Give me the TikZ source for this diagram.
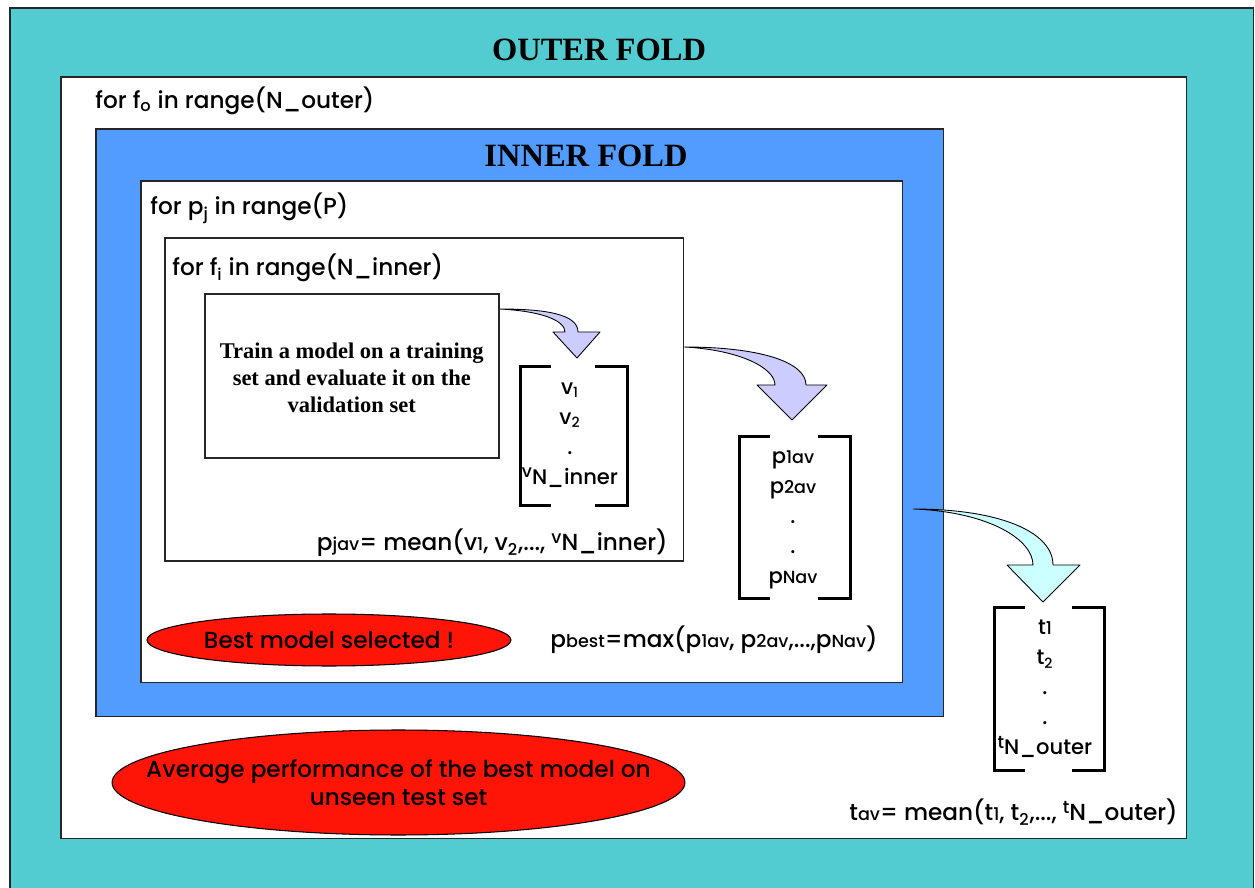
\documentclass[tikz,border=0pt]{standalone}
\usepackage{fontspec}
\setmainfont{Liberation Serif}
\setsansfont{Poppins}[BoldFont={Poppins Medium}]
\usetikzlibrary{shapes.geometric,calc}

\definecolor{tealbg}{RGB}{82,204,208}
\definecolor{foldblue}{RGB}{82,156,255}
\definecolor{lav}{RGB}{204,204,255}
\definecolor{ice}{RGB}{204,255,255}
\definecolor{redfill}{RGB}{255,20,8}

% small glyphs used for the low-set indices
\newcommand\sm[1]{{\fontsize{10}{11}\selectfont #1}}
\newcommand\hi[1]{\raisebox{.55ex}{\sm{#1}}}

\tikzset{
  frame/.style={draw=black!85, line width=0.9pt, inner sep=0pt, anchor=north west},
  title/.style={font=\rmfamily\fontsize{18.5}{21}\selectfont\bfseries},
  sans/.style={font=\sffamily\bfseries\fontsize{13.2}{16}\selectfont},
  loop/.style={sans, inner sep=0pt, anchor=west},
  formula/.style={sans, inner sep=0pt, anchor=east},
  entries/.style={font=\sffamily\bfseries\fontsize{12}{17}\selectfont, align=center, inner sep=0pt},
  holder/.style={inner sep=0pt},
  brk/.style={line width=1.5pt},
  oval/.style={ellipse, draw=black, fill=redfill, line width=0.6pt, inner sep=0pt},
  ovaltext/.style={sans, align=center, inner sep=0pt},
  fat/.style={draw=black, line width=0.5pt, line join=round},
}

\begin{document}
\begin{tikzpicture}[x=0.02cm, y=-0.02cm]
\useasboundingbox (0,0) rectangle (1255,888);
\fill[white] (0,0) rectangle (1255,888);

% nested frames
\node[frame, fill=tealbg, minimum width=24.88cm, minimum height=17.76cm] (cv) at (9,7) {};
\node[frame, fill=white, minimum width=22.52cm, minimum height=15.24cm] (outer) at (60,76) {};
\node[frame, fill=foldblue, minimum width=16.96cm, minimum height=11.76cm] (blue) at (95,128) {};
\node[frame, fill=white, minimum width=15.24cm, minimum height=10.04cm] (pbox) at (140,180) {};
\node[frame, fill=white, minimum width=10.38cm, minimum height=6.46cm] (fbox) at (164,237) {};
\node[frame, fill=white, minimum width=5.88cm, minimum height=3.28cm] (train) at (204,293) {};

% titles and loop headers
\node[title] (t1) at (599,50) {OUTER FOLD};
\node[title] (t2) at (586,156) {INNER FOLD};
\node[loop] (lo) at (95,101) {for f\textsubscript{o} in range(N\_outer)};
\node[loop] (lp) at (150,208) {for p\textsubscript{j} in range(P)};
\node[loop] (li) at (172,268) {for f\textsubscript{i} in range(N\_inner)};

\node[align=center, font=\rmfamily\fontsize{12.8}{15.6}\selectfont\bfseries] (tt) at ($(train.center)+(0,2)$)
  {Train a model on a training\\set and evaluate it on the\\validation set};

% result columns
\node[holder, minimum width=2.12cm, minimum height=2.76cm] (vb) at (574,436) {};
\node[holder, minimum width=2.2cm, minimum height=3.22cm] (pb) at (795,517.5) {};
\node[holder, minimum width=2.18cm, minimum height=3.24cm] (tb) at (1049.5,689) {};

\foreach \b in {vb,pb,tb}{
  \draw[brk] ($(\b.north west)+(30,0)$) -- (\b.north west) -- (\b.south west) -- ++(30,0);
  \draw[brk] ($(\b.north east)+(-32,0)$) -- (\b.north east) -- (\b.south east) -- ++(-32,0);
}

\node[entries] (vs) at (570,435) {v\textsubscript{1}\\v\textsubscript{2}\\.\\\hi{v}N\_inner};
\node[entries] (ps) at (793,520) {p\sm{1av}\\p\sm{2av}\\.\\.\\p\sm{Nav}};
\node[entries] (ts) at (1045,689) {t\sm{1}\\t\textsubscript{2}\\.\\.\\\hi{t}N\_outer};

% formulas
\node[formula] (fj) at (668,543) {p\sm{jav}= mean(v\sm{1}, v\textsubscript{2},..., \hi{v}N\_inner)};
\node[formula] (fb) at (878,640) {p\sm{best}=max(p\sm{1av}, p\sm{2av},...,p\sm{Nav})};
\node[formula] (fa) at (1178,812) {t\sm{av}= mean(t\sm{1}, t\textsubscript{2},..., \hi{t}N\_outer)};

% outcome ovals
\node[oval, minimum width=7.28cm, minimum height=1.04cm] (best) at (329,640) {};
\node[ovaltext] (bestl) at (best.center) {Best model selected !};
\node[oval, minimum width=11.46cm, minimum height=2.1cm] (avg) at (398.5,782.5) {};
\node[ovaltext] (avgl) at (avg.center) {Average performance of the best model on\\unseen test set};

% curved block arrows
\coordinate (s1) at ($(train.north east)+(0,16)$);
\coordinate (s2) at ($(fbox.north east)+(0,110)$);
\coordinate (s3) at ($(blue.north east)+(-31,381)$);

\filldraw[fat, fill=lav] (s1) .. controls (545,309) and (578,314) .. (578,332)
  -- (600,332) -- (577,358) -- (553,332) -- (565,332)
  .. controls (565,320) and (540,311) .. (s1) -- cycle;
\filldraw[fat, fill=lav] (s2) .. controls (760,347) and (806,362) .. (806,385)
  -- (827,385) -- (792,420) -- (757,385) -- (775,385)
  .. controls (775,368) and (740,350) .. (s2) -- cycle;
\filldraw[fat, fill=ice] (s3) .. controls (1000,509) and (1053,532) .. (1053,565)
  -- (1080,565) -- (1043,602) -- (1007,565) -- (1033,565)
  .. controls (1033,540) and (990,512) .. (s3) -- cycle;
\end{tikzpicture}
\end{document}
